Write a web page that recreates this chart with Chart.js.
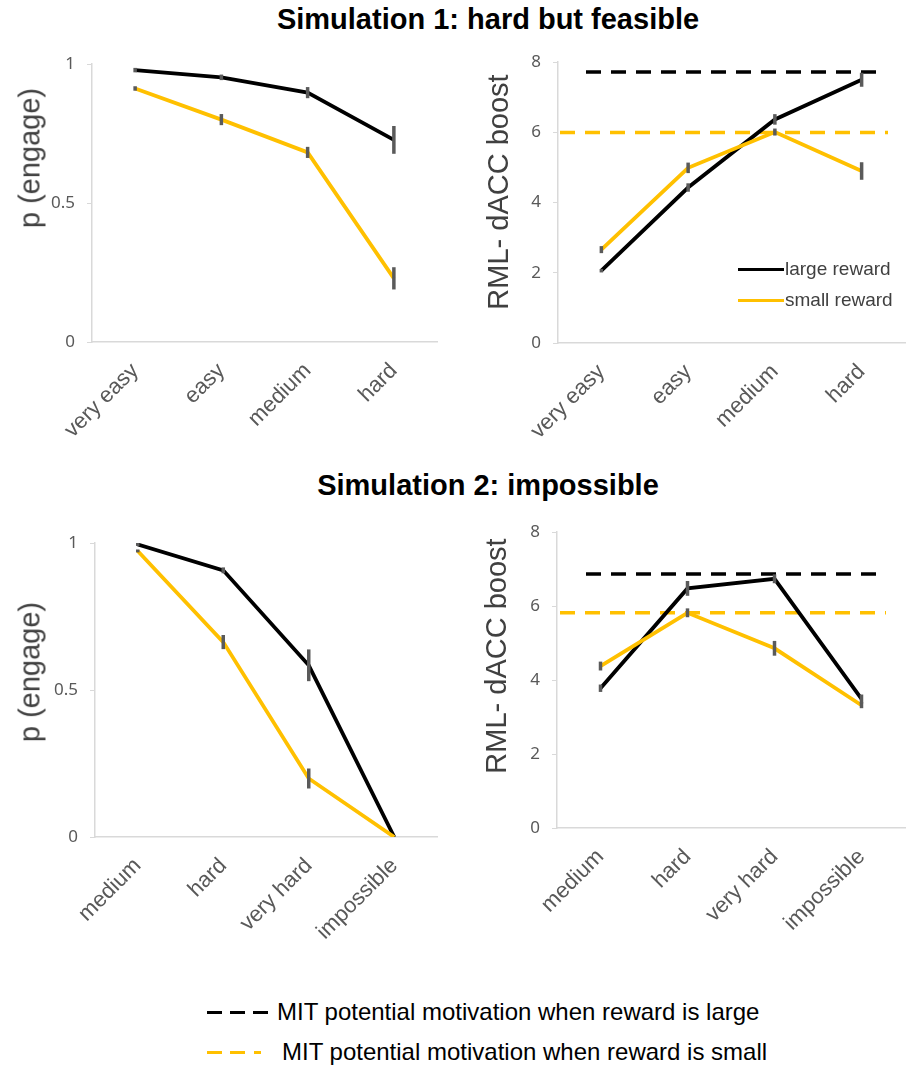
<!DOCTYPE html>
<html>
<head>
<meta charset="utf-8">
<script src="https://cdn.jsdelivr.net/npm/chart.js@4.4.0/dist/chart.umd.min.js"></script>
<style>
  body { margin: 0; background: #fff; }
  #page { position: relative; width: 906px; height: 1066px; font-family: 'Liberation Sans', Arial, sans-serif; }
  .panel { position: absolute; }
  .title { position: absolute; font-weight: bold; font-size: 29px; color: #000; white-space: nowrap; transform: translateX(-50%); }
  .ytitle { position: absolute; font-size: 29px; color: #404040; white-space: nowrap; transform: translate(-50%, -50%) rotate(-90deg); }
  .leg { position: absolute; white-space: nowrap; color: #404040; }
  .leg .sw { position: absolute; height: 0; }
</style>
</head>
<body>
<div id="page">
  <div class="title" style="left:488px; top:3px;">Simulation 1: hard but feasible</div>
  <div class="title" style="left:488px; top:469px;">Simulation 2: impossible</div>

  <div class="panel" style="left:0; top:40px;"><canvas id="c1" width="453" height="420"></canvas></div>
  <div class="panel" style="left:453px; top:40px;"><canvas id="c2" width="453" height="420"></canvas></div>
  <div class="panel" style="left:0; top:510px;"><canvas id="c3" width="453" height="460"></canvas></div>
  <div class="panel" style="left:453px; top:510px;"><canvas id="c4" width="453" height="460"></canvas></div>

  <div class="ytitle" style="left:30px; top:158px;">p (engage)</div>
  <div class="ytitle" style="left:498px; top:192px;">RML- dACC boost</div>
  <div class="ytitle" style="left:30px; top:672px;">p (engage)</div>
  <div class="ytitle" style="left:496px; top:656px;">RML- dACC boost</div>

  <!-- legend inside top-right panel -->
  <div class="leg" style="left:738px; top:258px; font-size:19px;">
    <span class="sw" style="left:0; top:10px; width:46px; border-top:3.5px solid #000;"></span>
    <span style="margin-left:47px;">large reward</span>
  </div>
  <div class="leg" style="left:738px; top:289px; font-size:19px;">
    <span class="sw" style="left:0; top:10px; width:46px; border-top:3.5px solid #ffc000;"></span>
    <span style="margin-left:47px;">small reward</span>
  </div>

  <!-- bottom legend -->
  <div class="leg" style="left:207px; top:998px; font-size:24px; color:#000;">
    <span class="sw" style="left:0; top:13px; width:15px; border-top:3.5px solid #000;"></span>
    <span class="sw" style="left:23px; top:13px; width:15px; border-top:3.5px solid #000;"></span>
    <span class="sw" style="left:46px; top:13px; width:15px; border-top:3.5px solid #000;"></span>
    <span style="margin-left:70px;">MIT potential motivation when reward is large</span>
  </div>
  <div class="leg" style="left:207px; top:1038px; font-size:24px; color:#000;">
    <span class="sw" style="left:0; top:13px; width:15px; border-top:3.5px solid #ffc000;"></span>
    <span class="sw" style="left:23px; top:13px; width:15px; border-top:3.5px solid #ffc000;"></span>
    <span class="sw" style="left:47px; top:13px; width:7px; border-top:3.5px solid #ffc000;"></span>
    <span style="margin-left:75px;">MIT potential motivation when reward is small</span>
  </div>
</div>

<script>
const sim1Labels = ['very easy', 'easy', 'medium', 'hard'];
const sim2Labels = ['medium', 'hard', 'very hard', 'impossible'];

// Simulation 1
const sim1EngageLarge = [0.978, 0.952, 0.897, 0.727];
const sim1EngageLargeErr = [0.008, 0.01, 0.02, 0.05];
const sim1EngageSmall = [0.912, 0.80, 0.682, 0.229];
const sim1EngageSmallErr = [0.008, 0.02, 0.02, 0.04];
const sim1BoostLarge = [2.06, 4.43, 6.37, 7.5];
const sim1BoostLargeErr = [0.05, 0.12, 0.15, 0.2];
const sim1BoostSmall = [2.66, 4.99, 6.01, 4.9];
const sim1BoostSmallErr = [0.1, 0.15, 0.1, 0.25];
const sim1MitLarge = 7.72;
const sim1MitSmall = 6.0;

// Simulation 2
const sim2EngageLarge = [0.995, 0.907, 0.584, 0];
const sim2EngageLargeErr = [0.005, 0.01, 0.054, 0];
const sim2EngageSmall = [0.973, 0.663, 0.199, 0];
const sim2EngageSmallErr = [0.005, 0.024, 0.034, 0];
const sim2BoostLarge = [3.78, 6.48, 6.74, 3.49];
const sim2BoostLargeErr = [0.1, 0.2, 0.12, 0.12];
const sim2BoostSmall = [4.38, 5.82, 4.86, 3.32];
const sim2BoostSmallErr = [0.12, 0.12, 0.2, 0.08];
const sim2MitLarge = 6.87;
const sim2MitSmall = 5.82;

const BLACK = '#000000';
const GOLD = '#ffc000';
const AXIS = '#d9d9d9';
const TICK = '#595959';

// vertical error bars, drawn on top of the lines
const errorBars = {
    id: 'errorBars',
    afterDatasetsDraw(chart) {
        const ctx = chart.ctx;
        const y = chart.scales.y;
        chart.data.datasets.forEach((ds, i) => {
            if (!ds.errors) return;
            const meta = chart.getDatasetMeta(i);
            meta.data.forEach((pt, j) => {
                const v = ds.data[j], e = ds.errors[j];
                if (!e) return;
                ctx.save();
                ctx.strokeStyle = '#5a5a5a';
                ctx.lineWidth = 3.5;
                ctx.beginPath();
                ctx.moveTo(pt.x, y.getPixelForValue(v + e));
                ctx.lineTo(pt.x, y.getPixelForValue(v - e));
                ctx.stroke();
                ctx.restore();
            });
        });
    }
};

// dashed horizontal reference lines (MIT potential motivation)
const refLines = {
    id: 'refLines',
    beforeDatasetsDraw(chart, args, opts) {
        if (!opts.lines) return;
        const ctx = chart.ctx;
        const area = chart.chartArea;
        opts.lines.forEach(l => {
            const py = chart.scales.y.getPixelForValue(l.value);
            ctx.save();
            ctx.strokeStyle = l.color;
            ctx.lineWidth = 3.5;
            ctx.setLineDash([15, 10]);
            ctx.beginPath();
            ctx.moveTo(area.left + l.startInset, py);
            ctx.lineTo(area.right - l.endInset, py);
            ctx.stroke();
            ctx.restore();
        });
    }
};

function makeChart(id, labels, large, largeErr, small, smallErr, yOpts, box, lines) {
    const canvas = document.getElementById(id);
    return new Chart(canvas, {
        type: 'line',
        data: {
            labels: labels,
            datasets: [
                { label: 'small reward', data: small, errors: smallErr, borderColor: GOLD, borderWidth: 3.8, pointRadius: 0, tension: 0 },
                { label: 'large reward', data: large, errors: largeErr, borderColor: BLACK, borderWidth: 3.8, pointRadius: 0, tension: 0 }
            ]
        },
        options: {
            responsive: false,
            animation: false,
            layout: { padding: { left: 0, top: box.top, right: canvas.width - box.right, bottom: 0 } },
            plugins: {
                legend: { display: false },
                tooltip: { enabled: false },
                refLines: { lines: lines || [] }
            },
            scales: {
                x: {
                    offset: true,
                    grid: { display: true, drawOnChartArea: false, drawTicks: false },
                    border: { color: AXIS, width: 1.5 },
                    ticks: {
                        minRotation: 45, maxRotation: 45, padding: 16, autoSkip: false,
                        color: TICK, font: { family: 'Liberation Sans', size: 22 }
                    },
                    afterFit(scale) { scale.height = canvas.height - box.bottom; }
                },
                y: {
                    min: yOpts.min, max: yOpts.max,
                    grid: { drawOnChartArea: false, color: AXIS, tickLength: 5 },
                    border: { color: AXIS, width: 1.5 },
                    ticks: {
                        stepSize: yOpts.step, padding: 12, color: TICK,
                        font: { family: 'Noto Sans', size: 17 },
                        callback: v => String(v)
                    },
                    afterFit(scale) { scale.width = box.left; }
                }
            }
        },
        plugins: [refLines, errorBars]
    });
}

charts = {};
charts.sim1Engage = makeChart('c1', sim1Labels, sim1EngageLarge, sim1EngageLargeErr, sim1EngageSmall, sim1EngageSmallErr,
    { min: 0, max: 1, step: 0.5 }, { left: 92, right: 437, top: 24, bottom: 302 });
charts.sim1Boost = makeChart('c2', sim1Labels, sim1BoostLarge, sim1BoostLargeErr, sim1BoostSmall, sim1BoostSmallErr,
    { min: 0, max: 8, step: 2 }, { left: 105, right: 452, top: 21, bottom: 303 },
    [{ value: sim1MitLarge, color: BLACK, startInset: 28, endInset: 20 },
     { value: sim1MitSmall, color: GOLD, startInset: 2, endInset: 17 }]);
charts.sim2Engage = makeChart('c3', sim2Labels, sim2EngageLarge, sim2EngageLargeErr, sim2EngageSmall, sim2EngageSmallErr,
    { min: 0, max: 1, step: 0.5 }, { left: 95, right: 437, top: 33, bottom: 327 });
charts.sim2Boost = makeChart('c4', sim2Labels, sim2BoostLarge, sim2BoostLargeErr, sim2BoostSmall, sim2BoostSmallErr,
    { min: 0, max: 8, step: 2 }, { left: 104, right: 452, top: 17, bottom: 318 },
    [{ value: sim2MitLarge, color: BLACK, startInset: 29, endInset: 19 },
     { value: sim2MitSmall, color: GOLD, startInset: 3, endInset: 19 }]);
</script>
</body>
</html>
